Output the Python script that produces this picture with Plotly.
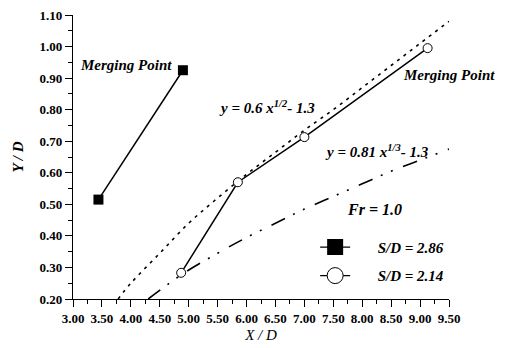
import plotly.graph_objects as go

# Data
sd286_x = [3.44, 4.90]
sd286_y = [0.515, 0.925]

sd214_x = [4.87, 5.85, 7.00, 9.13]
sd214_y = [0.283, 0.570, 0.713, 0.995]

# upper dotted curve  (y = 0.6 x^1/2 - 1.3)
c1_x = [3.78, 4.0, 4.5, 5.0, 5.5, 6.0, 6.5, 7.0, 7.5, 8.0, 8.5, 9.0, 9.5]
c1_y = [0.20, 0.25, 0.345, 0.44, 0.52, 0.595, 0.665, 0.735, 0.80, 0.87, 0.94, 1.01, 1.08]

# lower dash-dot curve  (y = 0.81 x^1/3 - 1.3)
c2_x = [4.30, 4.9, 5.5, 6.0, 6.5, 7.0, 7.5, 8.0, 8.5, 9.0, 9.5]
c2_y = [0.20, 0.28, 0.345, 0.395, 0.44, 0.485, 0.525, 0.565, 0.605, 0.64, 0.675]

x_ticks = [3.0 + 0.5 * i for i in range(14)]
y_ticks = [0.2 + 0.1 * i for i in range(10)]

SERIF = "Liberation Serif, Times New Roman, serif"

fig = go.Figure()

fig.add_trace(go.Scatter(x=c1_x, y=c1_y, mode="lines", line=dict(color="black", width=1.6, dash="3px,5px", shape="spline"),
                         showlegend=False, hoverinfo="skip"))
fig.add_trace(go.Scatter(x=c2_x, y=c2_y, mode="lines",
                         line=dict(color="black", width=1.6, dash="15px,9px,2px,9px,2px,11px", shape="spline"),
                         showlegend=False, hoverinfo="skip"))

fig.add_trace(go.Scatter(x=sd286_x, y=sd286_y, mode="lines+markers",
                         line=dict(color="black", width=1.5),
                         marker=dict(symbol="square", size=10, color="black"),
                         showlegend=False))
fig.add_trace(go.Scatter(x=sd214_x, y=sd214_y, mode="lines+markers",
                         line=dict(color="black", width=1.5),
                         marker=dict(symbol="circle", size=9, color="white", line=dict(color="black", width=1)),
                         showlegend=False))

PAD = "&nbsp;" * 6
# legend entries (larger symbols as in the reference)
fig.add_trace(go.Scatter(x=[None], y=[None], mode="lines+markers", name=PAD + "<b><i>S/D = 2.86</i></b>",
                         legendgroup="a",
                         line=dict(color="black", width=1.2),
                         marker=dict(symbol="square", size=16, color="black")))
fig.add_trace(go.Scatter(x=[None], y=[None], mode="lines+markers", name=PAD + "<b><i>S/D = 2.14</i></b>",
                         legendgroup="b",
                         line=dict(color="black", width=1.2),
                         marker=dict(symbol="circle", size=16, color="white", line=dict(color="black", width=1))))

ann_font = dict(family=SERIF, size=15, color="black")
annotations = [
    dict(x=3.92, y=0.94, xref="x", yref="y", text="<b><i>Merging Point</i></b>", xanchor="center", yanchor="middle", showarrow=False, font=ann_font),
    dict(x=9.50, y=0.909, xref="x", yref="y", text="<b><i>Merging Point</i></b>", xanchor="center", yanchor="middle", showarrow=False, font=ann_font),
    dict(x=6.35, y=0.81, xref="x", yref="y", text="<b><i>y = 0.6 x<sup>1/2</sup>- 1.3</i></b>", xanchor="center", yanchor="middle", showarrow=False, font=ann_font),
    dict(x=8.25, y=0.67, xref="x", yref="y", text="<b><i>y = 0.81 x<sup>1/3</sup>- 1.3</i></b>", xanchor="center", yanchor="middle", showarrow=False, font=ann_font),
    dict(x=8.22, y=0.485, xref="x", yref="y", text="<b><i>Fr = 1.0</i></b>", xanchor="center", yanchor="middle", showarrow=False, font=dict(family=SERIF, size=16, color="black")),
]

axis_common = dict(showline=True, linecolor="black", linewidth=1.2, ticks="outside", ticklen=7, tickwidth=1.2,
                   tickcolor="black", showgrid=False, zeroline=False, mirror=False, automargin=False,
                   tickfont=dict(family=SERIF, size=13, color="black", weight="bold"))

fig.update_layout(
    width=508, height=348,
    margin=dict(l=73, r=59, t=15, b=49),
    paper_bgcolor="white", plot_bgcolor="white",
    xaxis=dict(range=[3.0, 9.5], tickvals=x_ticks, ticktext=[f"{v:.2f}" for v in x_ticks],
               minor=dict(ticks="outside", ticklen=4, tickwidth=1, tickcolor="black", dtick=0.25, tick0=3.0),
               title=dict(text="<i>X / D</i>", font=dict(family=SERIF, size=15, color="black"), standoff=4),
               **axis_common),
    yaxis=dict(range=[0.2, 1.1], tickvals=y_ticks, ticktext=[f"{v:.2f}" for v in y_ticks],
               minor=dict(ticks="outside", ticklen=4, tickwidth=1, tickcolor="black", dtick=0.05, tick0=0.2),
               title=dict(text="<b><i>Y / D</i></b>", font=dict(family=SERIF, size=15, color="black"), standoff=12),
               **axis_common),
    legend=dict(x=0.644, y=0.24, xanchor="left", yanchor="top", bgcolor="rgba(0,0,0,0)",
                font=dict(family=SERIF, size=15, color="black"), tracegroupgap=6),
    annotations=annotations,
    showlegend=True,
)

fig.write_html("out.html", config={"displayModeBar": False})

# remove the default page margin so the figure sits at the window origin
with open("out.html", "r", encoding="utf-8") as f:
    html = f.read()
html = html.replace("<head>", "<head><style>html,body{margin:0;padding:0;overflow:hidden;}</style>", 1)
with open("out.html", "w", encoding="utf-8") as f:
    f.write(html)
